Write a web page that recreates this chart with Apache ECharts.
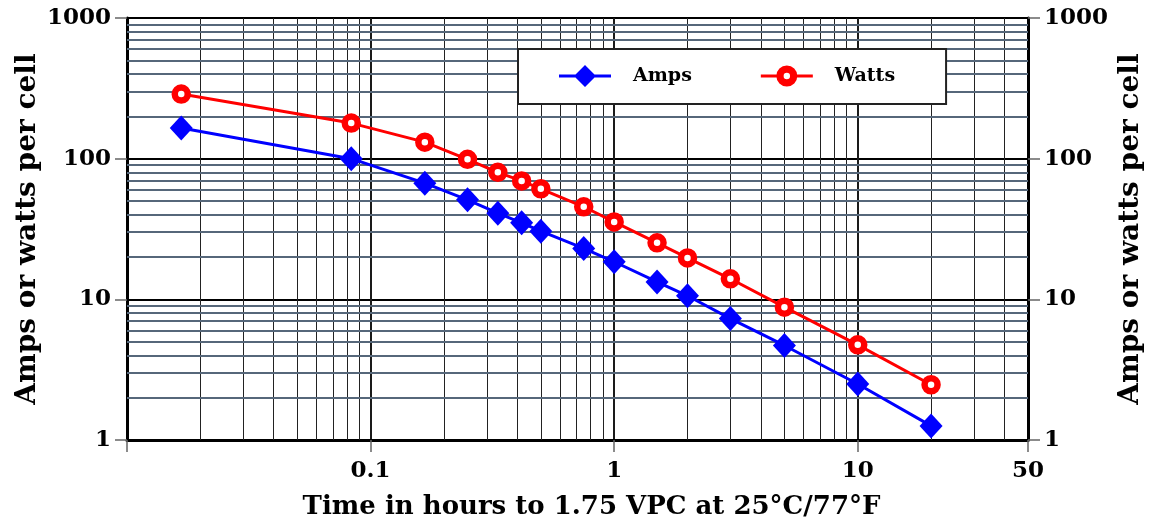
<!DOCTYPE html>
<html>
<head>
<meta charset="utf-8">
<script src="https://cdn.jsdelivr.net/npm/echarts@6/dist/echarts.min.js"></script>
<style>
  html, body { margin: 0; padding: 0; background: #fff; }
  #chart { width: 1149px; height: 521px; }
</style>
</head>
<body>
<div id="chart"></div>
<script>
// discharge time in hours (1, 5, 10, 15, 20, 25, 30, 45 min, then hours)
const hours = [0.0167, 0.0833, 0.167, 0.25, 0.333, 0.417, 0.5, 0.75, 1, 1.5, 2, 3, 5, 10, 20];
const amps = [165, 100, 67, 51, 41, 35, 30.5, 23, 18.5, 13.3, 10.6, 7.3, 4.7, 2.5, 1.26];
const watts = [288, 179, 131, 99, 80, 69.5, 61, 45.5, 35.5, 25.2, 19.7, 14, 8.8, 4.75, 2.47];

// minor grid values (log paper)
const xMinor = [0.02, 0.03, 0.04, 0.05, 0.06, 0.07, 0.08, 0.09,
  0.2, 0.3, 0.4, 0.5, 0.6, 0.7, 0.8, 0.9,
  2, 3, 4, 5, 6, 7, 8, 9, 20, 30, 40];
const yMinor = [2, 3, 4, 5, 6, 7, 8, 9, 20, 30, 40, 50, 60, 70, 80, 90,
  200, 300, 400, 500, 600, 700, 800, 900];

const FONT = 'DejaVu Serif';

// legend icons: line with marker (ring keeps its white hole)
const ampsIcon = 'path://M0,10.5 L52,10.5 L52,13.5 L0,13.5 Z M26,1 L37,12 L26,23 L15,12 Z';
const wattsIcon = 'path://M0,10.5 L16,10.5 L16,13.5 L0,13.5 Z M36,10.5 L52,10.5 L52,13.5 L36,13.5 Z '
  + 'M15.5,12 A10.5,10.5 0 1,1 36.5,12 A10.5,10.5 0 1,1 15.5,12 Z '
  + 'M22.8,12 A3.2,3.2 0 1,0 29.2,12 A3.2,3.2 0 1,0 22.8,12 Z';

const chart = echarts.init(document.getElementById('chart'));

// plain numbers, no thousands separator
const plain = (v) => String(+(+v).toPrecision(6));

const yAxisBase = {
  type: 'log',
  logBase: 10,
  min: 1,
  max: 1000,
  name: 'Amps or watts per cell',
  nameLocation: 'middle',
  nameGap: 85,
  nameMoveOverlap: false,
  nameTextStyle: { fontFamily: FONT, fontWeight: 'bold', fontSize: 28, color: '#000' },
  axisLine: { show: true, lineStyle: { color: '#000', width: 3 } },
  axisTick: { show: true, length: 12, lineStyle: { color: '#666', width: 1.5 } },
  axisLabel: {
    fontFamily: FONT, fontWeight: 'bold', fontSize: 23, color: '#000', margin: 16,
    formatter: plain
  },
  splitLine: { show: true, lineStyle: { color: '#000', width: 2 } },
  minorTick: { show: false },
  minorSplitLine: { show: false }
};

const option = {
  animation: false,
  backgroundColor: '#fff',
  grid: { left: 127, right: 121, top: 18, bottom: 81, outerBoundsMode: 'none', containLabel: false },
  legend: {
    left: 518,
    top: 49,
    padding: [16, 51, 17, 41],
    itemGap: 69,
    itemWidth: 52,
    itemHeight: 22,
    backgroundColor: '#fff',
    borderColor: '#222',
    borderWidth: 2,
    borderRadius: 0,
    textStyle: {
      fontFamily: FONT, fontWeight: 'bold', fontSize: 19, color: '#000',
      padding: [0, 0, 0, 17]
    },
    data: [
      { name: 'Amps', icon: ampsIcon, itemStyle: { color: '#0000ff', borderWidth: 0 } },
      { name: 'Watts', icon: wattsIcon, itemStyle: { color: '#ff0000', borderWidth: 0 } }
    ]
  },
  xAxis: {
    type: 'log',
    logBase: 10,
    min: 0.01,
    max: 50,
    name: 'Time in hours to 1.75 VPC at 25\u00B0C/77\u00B0F',
    nameLocation: 'middle',
    nameGap: 54,
    nameMoveOverlap: false,
    nameTextStyle: {
      fontFamily: FONT, fontWeight: 'bold', fontSize: 26, color: '#000',
      padding: [0, 0, 0, 28]
    },
    axisLine: { show: true, lineStyle: { color: '#000', width: 3 } },
    axisTick: { show: true, length: 12, lineStyle: { color: '#666', width: 1.5 } },
    axisLabel: {
      fontFamily: FONT, fontWeight: 'bold', fontSize: 23, color: '#000', margin: 20,
      showMinLabel: true, showMaxLabel: true,
      formatter: (v) => (v < 0.05 ? '' : plain(v))
    },
    splitLine: { show: true, lineStyle: { color: '#1a1a1a', width: 2 } },
    minorTick: { show: false },
    minorSplitLine: { show: false }
  },
  yAxis: [
    Object.assign({}, yAxisBase, { position: 'left' }),
    Object.assign({}, yAxisBase, { position: 'right', nameGap: 89 })
  ],
  series: [
    {
      // log-paper minor grid
      name: 'grid',
      type: 'line',
      data: [],
      silent: true,
      markLine: {
        silent: true,
        symbol: ['none', 'none'],
        z: 1,
        label: { show: false },
        data: xMinor.map((v) => ({ xAxis: v, lineStyle: { color: '#222', width: 1, type: 'solid' } }))
          .concat(yMinor.map((v) => ({ yAxis: v, lineStyle: { color: '#56677a', width: 2, type: 'solid' } })))
      }
    },
    {
      name: 'Amps',
      type: 'line',
      z: 3,
      data: hours.map((h, i) => [h, amps[i]]),
      symbol: 'diamond',
      symbolSize: [23, 25],
      lineStyle: { color: '#0000ff', width: 3 },
      itemStyle: { color: '#0000ff' }
    },
    {
      name: 'Watts',
      type: 'line',
      z: 3,
      data: hours.map((h, i) => [h, watts[i]]),
      symbol: 'circle',
      symbolSize: 13,
      lineStyle: { color: '#ff0000', width: 3 },
      itemStyle: { color: '#fff', borderColor: '#ff0000', borderWidth: 6.5 }
    }
  ]
};

chart.setOption(option);
</script>
</body>
</html>
